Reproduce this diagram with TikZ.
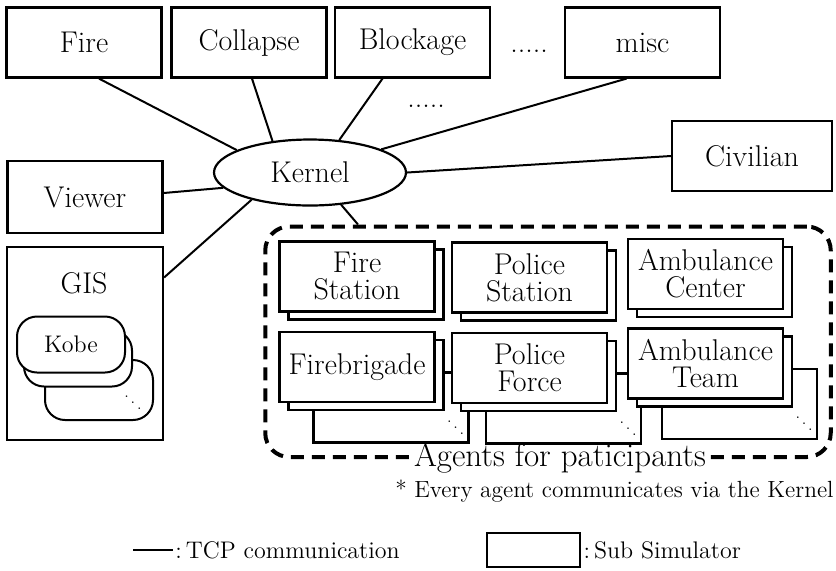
\documentclass[tikz,border=0pt]{standalone}
\usepackage{tikz}
\usetikzlibrary{shapes.geometric}
\newcommand{\simfont}{\fontsize{15}{13.5}\selectfont}
\newcommand{\notefont}{\fontsize{12}{12}\selectfont}
\tikzset{
  sim/.style={draw, line width=1.1pt, fill=white, align=center, font=\simfont,
              minimum width=77.5pt, minimum height=35pt, inner sep=0pt},
  tcp/.style={line width=1pt},
  mapbox/.style={draw, line width=1pt, fill=white, rounded corners=10pt,
                 minimum width=54pt, minimum height=28pt, font=\notefont},
  moredots/.style={font=\fontsize{7}{7}\selectfont, inner sep=0pt},
}

\begin{document}
\begin{tikzpicture}[x=0.5pt, y=-0.5pt]
    \useasboundingbox (0,0) rectangle (836,570);

    %Sub simulators
    \node[sim] (fire)     at (84,42.5)  {Fire};
    \node[sim] (collapse) at (249,42.5) {Collapse};
    \node[sim] (blockage) at (412.5,42.5) {Blockage};
    \node[font=\simfont, anchor=base] (topdots) at (529,52) {.....};
    \node[sim] (misc)     at (642.5,42.5) {misc};
    \node[font=\simfont, anchor=base] (middots) at (426,107) {.....};
    \node[sim, minimum width=80pt] (civilian) at (752,156) {Civilian};
    \node[sim, minimum height=36pt] (viewer) at (85,197) {Viewer};
    \node[draw, ellipse, line width=1.1pt, minimum width=96pt, minimum height=33pt,
          inner sep=0pt, font=\simfont] (kernel) at (310,172.5) {Kernel};

    %GIS with maps
    \node[sim, minimum width=78pt, minimum height=96.5pt] (gis) at (85,343.5) {};
    \node[font=\simfont] (gislabel) at (84,283) {GIS};
    \node[mapbox, minimum height=30pt] (kobe3) at (99,390) {};
    \node[mapbox] (kobe2) at (78,358.5) {};
    \node[mapbox] (kobe)  at (71,344.5) {Kobe};
    \node[moredots] (kobedots) at (133,397) {$\ddots$};

    %TCP lines to the kernel
    \draw[tcp] ([xshift=7.5pt]fire.south) -- (kernel.163);
    \draw[tcp] ([xshift=1.5pt]collapse.south) -- (kernel.140);
    \draw[tcp] ([xshift=-15pt]blockage.south) -- (kernel.48);
    \draw[tcp] ([xshift=-8pt]misc.south) -- (kernel.18);
    \draw[tcp] (kernel.east) -- (civilian.west);
    \draw[tcp] (kernel.190) -- ([yshift=2pt]viewer.east);
    \draw[tcp] (kernel.205) -- ([yshift=33pt]gis.east);

    %Agents
    \node[draw, line width=2pt, dash pattern=on 6.5pt off 4pt, rounded corners=12pt,
          minimum width=282.75pt, minimum height=115.25pt] (agents) at (548,341.75) {};
    \node[fill=white, font=\fontsize{16.5}{16}\selectfont, inner xsep=2pt, inner ysep=0pt] (agentslabel)
          at (560,458) {Agents for paticipants};
    \draw[tcp] (kernel.314) -- ([xshift=-95pt]agents.north);
    \foreach \nm/\px/\py/\txt in {fstation/357/276.5/{Fire\\Station},
                                  pstation/529.5/277.5/{Police\\Station},
                                  acenter/705.5/274/{Ambulance\\Center}}{
        \node[sim] (\nm-b) at (\px+9,\py+8) {};
        \node[sim] (\nm)   at (\px,\py) {\txt};
    }
    \foreach \nm/\px/\py/\txt in {fbrigade/357/367/Firebrigade,
                                  pforce/529.5/368/{Police\\Force},
                                  ateam/705.5/363.5/{Ambulance\\Team}}{
        \node[sim] (\nm-c) at (\px+34,\py+40.5) {};
        \node[moredots] (\nm-d) at ([xshift=-7pt,yshift=11pt]\nm-c.south east) {$\ddots$};
        \node[sim] (\nm-b) at (\px+9,\py+8) {};
        \node[sim] (\nm)   at (\px,\py) {\txt};
    }
    \node[font=\fontsize{11.7}{12}\selectfont, anchor=east, inner sep=0pt] (note) at (834,491)
          {* Every agent communicates via the Kernel};

    %Legend
    \coordinate (tcpa) at (133,550);
    \node[font=\notefont, anchor=west, inner sep=1pt] (tcplabel) at (173,550) {:\,TCP communication};
    \draw[tcp] (tcpa) -- (tcplabel.west);
    \node[sim, minimum width=46.5pt, minimum height=17pt] (legendbox) at (533.5,550) {};
    \node[font=\notefont, anchor=west, inner sep=1pt] (simlabel) at (legendbox.east) {:\,Sub Simulator};
\end{tikzpicture}
\end{document}
